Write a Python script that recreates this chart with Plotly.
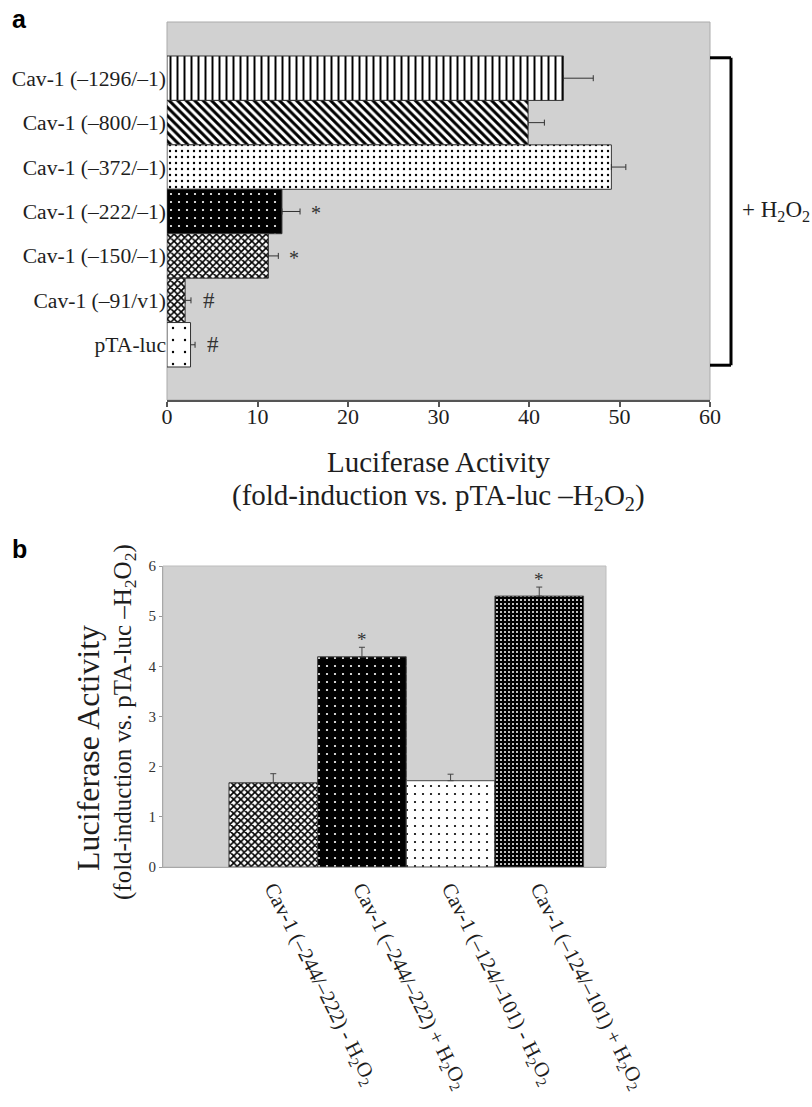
import plotly.graph_objects as go

W, H = 812, 1107
SERIF = "Liberation Serif"
SANS = "Liberation Sans"

# ---------------- data: panel a ----------------
a_labels = ["Cav-1 (–1296/–1)", "Cav-1 (–800/–1)", "Cav-1 (–372/–1)",
            "Cav-1 (–222/–1)", "Cav-1 (–150/–1)", "Cav-1 (–91/v1)", "pTA-luc"]
a_values = [43.8, 39.9, 49.1, 12.7, 11.2, 2.0, 2.6]
a_errors = [3.3, 1.8, 1.6, 2.0, 1.1, 0.65, 0.5]
a_marks = ["", "", "", "*", "*", "#", "#"]
a_ticks = [0, 10, 20, 30, 40, 50, 60]

# ---------------- data: panel b ----------------
H2O2 = "H<sub>2</sub>O<sub>2</sub>"
b_labels = ["Cav-1 (–244/–222) - " + H2O2, "Cav-1 (–244/–222) + " + H2O2,
            "Cav-1 (–124/–101) - " + H2O2, "Cav-1 (–124/–101) + " + H2O2]
b_values = [1.68, 4.19, 1.72, 5.40]
b_errors = [0.18, 0.19, 0.13, 0.18]
b_marks = ["", "*", "", "*"]
b_ticks = [0, 1, 2, 3, 4, 5, 6]

a_pos = list(range(len(a_labels)))[::-1]
b_pos = list(range(len(b_labels)))

# fill styles: (background, shape, foreground, size, solidity)
a_styles = [
    ("white", "|", "black", 7, 0.28),
    ("white", "\\", "black", 6, 0.5),
    ("white", ".", "black", 6, 0.12),
    ("black", ".", "white", 8, 0.06),
    ("white", "x", "black", 5, 0.55),
    ("white", "x", "black", 5, 0.55),
    ("white", ".", "black", 12, 0.03),
]
b_styles = [
    ("white", "x", "black", 5, 0.55),
    ("black", ".", "white", 8, 0.06),
    ("white", ".", "black", 8, 0.06),
    ("black", ".", "white", 4, 0.2),
]

BG = "#d1d1d1"
TXT = "#1e1e1e"

fig = go.Figure()


def pattern_marker(style, edge):
    bg, shp, fg, sz, sol = style
    return dict(color=bg, line=dict(color=edge, width=1),
                pattern=dict(shape=shp, fgcolor=fg, fgopacity=1, size=sz,
                             solidity=sol, fillmode="overlay"))


for v, e, p, st in zip(a_values, a_errors, a_pos, a_styles):
    fig.add_trace(go.Bar(
        x=[v], y=[p], orientation="h", width=1, xaxis="x", yaxis="y",
        marker=pattern_marker(st, "#333333"),
        error_x=dict(type="data", symmetric=False, array=[e], arrayminus=[0],
                     color="#333333", thickness=1, width=3),
        showlegend=False, hoverinfo="skip",
    ))

for p, v, e, st in zip(b_pos, b_values, b_errors, b_styles):
    fig.add_trace(go.Bar(
        x=[p], y=[v], width=1, xaxis="x2", yaxis="y2",
        marker=pattern_marker(st, "#444444"),
        error_y=dict(type="data", symmetric=False, array=[e], arrayminus=[0],
                     color="#444444", thickness=1, width=3),
        showlegend=False, hoverinfo="skip",
    ))

# domains (paper fractions)
ax_a = [167 / W, 710 / W]
ay_a = [1 - 400 / H, 1 - 22 / H]
ax_b = [163 / W, 606 / W]
ay_b = [1 - 867 / H, 1 - 566 / H]

fig.update_layout(
    template="none",
    width=W, height=H, autosize=False, barmode="overlay",
    margin=dict(l=0, r=0, t=0, b=0, pad=0),
    paper_bgcolor="white", plot_bgcolor=BG,
    font=dict(family=SERIF, color=TXT),
    xaxis=dict(domain=ax_a, anchor="y", range=[0, 60], tickvals=a_ticks,
               automargin=False,
               showgrid=False, zeroline=False, showline=True,
               linecolor="#555555", linewidth=1.5, ticks="outside",
               ticklen=5, tickcolor="#555555", tickwidth=1.5,
               ticklabelstandoff=-9,
               tickfont=dict(size=22, family=SERIF, color=TXT)),
    yaxis=dict(domain=ay_a, anchor="x", range=[-1.243, 7.265],
               tickvals=a_pos, ticktext=a_labels, ticks="", automargin=False,
               showgrid=False, zeroline=False, showline=False,
               tickfont=dict(size=21.6, family=SERIF, color=TXT)),
    xaxis2=dict(domain=ax_b, anchor="y2", range=[-1.244, 3.753],
                tickvals=b_pos, ticktext=b_labels, tickangle=63, ticks="",
                automargin=False,
                showgrid=False, zeroline=False, showline=True,
                linecolor="#a8a8a8", linewidth=1,
                tickfont=dict(size=21, family=SERIF, color=TXT)),
    yaxis2=dict(domain=ay_b, anchor="x2", range=[0, 6], tickvals=b_ticks,
                automargin=False,
                showgrid=False, zeroline=False, showline=True,
                linecolor="#a8a8a8", linewidth=1, ticks="outside",
                ticklen=3, tickcolor="#999999",
                tickfont=dict(size=15, family=SERIF, color="#333333")),
)

shapes = [
    dict(type="rect", xref="x domain", yref="y domain", x0=0, x1=1, y0=0, y1=1,
         line=dict(color="#ababab", width=1), layer="below"),
    dict(type="rect", xref="x2 domain", yref="y2 domain", x0=0, x1=1, y0=0, y1=1,
         line=dict(color="#bdbdbd", width=1), layer="below"),
]
# bracket for the + H2O2 group (spans all bars of panel a)
bx0, bx1 = 710 / W, 731 / W
ytop, ybot = max(a_pos) + 0.46, min(a_pos) - 0.46
bl = dict(color="black", width=3)
shapes += [
    dict(type="line", xref="paper", yref="y", x0=bx0, x1=bx1, y0=ytop, y1=ytop, line=bl),
    dict(type="line", xref="paper", yref="y", x0=bx1, x1=bx1, y0=ytop, y1=ybot, line=bl),
    dict(type="line", xref="paper", yref="y", x0=bx0, x1=bx1, y0=ybot, y1=ybot, line=bl),
]
fig.update_layout(shapes=shapes)

ann = []
for v, e, p, m in zip(a_values, a_errors, a_pos, a_marks):
    if m:
        ann.append(dict(x=v + e, y=p, xref="x", yref="y", text=m, showarrow=False,
                        xanchor="left", yanchor="middle",
                        xshift=9 if m == "*" else 10,
                        yshift=-2 if m == "*" else 0,
                        font=dict(size=20 if m == "*" else 23, family=SERIF, color="#333333")))
for p, v, e, m in zip(b_pos, b_values, b_errors, b_marks):
    if m:
        ann.append(dict(x=p, y=v + e, xref="x2", yref="y2", text=m, showarrow=False,
                        xanchor="center", yanchor="bottom", yshift=-5,
                        font=dict(size=19, family=SERIF, color="#333333")))

ann += [
    dict(x=bx1 + 9 / W, y=(ytop + ybot) / 2, xref="paper", yref="y",
         text="+ " + H2O2, showarrow=False, xanchor="left", yanchor="middle",
         font=dict(size=23, family=SERIF, color=TXT)),
    dict(x=(ax_a[0] + ax_a[1]) / 2, y=1 - 462 / H, xref="paper", yref="paper",
         text="Luciferase Activity", showarrow=False, xanchor="center", yanchor="middle",
         font=dict(size=29, family=SERIF, color=TXT)),
    dict(x=(ax_a[0] + ax_a[1]) / 2, y=1 - 497 / H, xref="paper", yref="paper",
         text="(fold-induction vs. pTA-luc –" + H2O2 + ")", showarrow=False,
         xanchor="center", yanchor="middle",
         font=dict(size=29, family=SERIF, color=TXT)),
    dict(x=88 / W, y=1 - 748 / H, xref="paper", yref="paper",
         text="Luciferase Activity", showarrow=False, textangle=-90,
         xanchor="center", yanchor="middle",
         font=dict(size=32, family=SERIF, color=TXT)),
    dict(x=124 / W, y=1 - 722 / H, xref="paper", yref="paper",
         text="(fold-induction vs. pTA-luc –" + H2O2 + ")", showarrow=False,
         textangle=-90, xanchor="center", yanchor="middle",
         font=dict(size=25, family=SERIF, color=TXT)),
    dict(x=10 / W, y=1 - 3 / H, xref="paper", yref="paper", text="<b>a</b>",
         showarrow=False, xanchor="left", yanchor="top",
         font=dict(size=25, family=SANS, color="black")),
    dict(x=10 / W, y=1 - 533 / H, xref="paper", yref="paper", text="<b>b</b>",
         showarrow=False, xanchor="left", yanchor="top",
         font=dict(size=25, family=SANS, color="black")),
]
fig.update_layout(annotations=ann)

fig.write_html(
    "out.html",
    config={"responsive": False, "displayModeBar": False},
    post_script="document.body.style.margin='0';document.body.style.overflow='hidden';",
)
